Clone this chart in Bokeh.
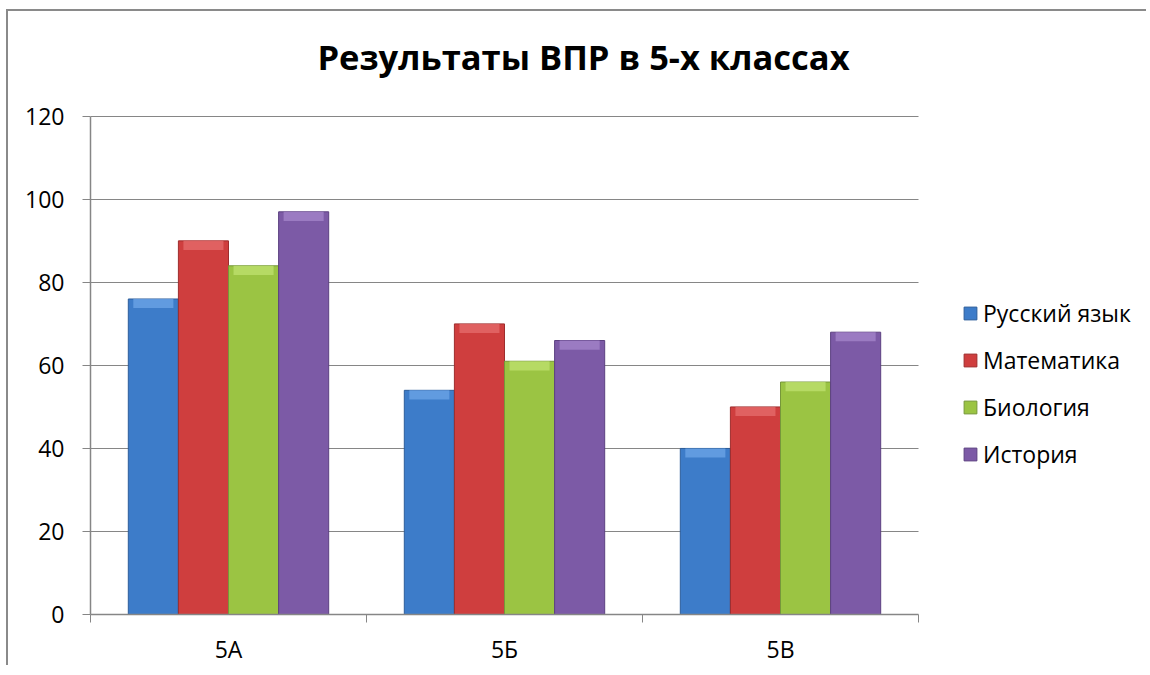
import numpy as np
from bokeh.plotting import figure
from bokeh.models import Range1d, FixedTicker, Label, Legend, LegendItem, ColumnDataSource, BoxAnnotation
from bokeh.embed import file_html
from bokeh.resources import INLINE

# ---- data ----
classes = ["5А", "5Б", "5В"]
subjects = ["Русский язык", "Математика", "Биология", "История"]
russian = [76, 54, 40]
math = [90, 70, 50]
biology = [84, 61, 56]
history = [97, 66, 68]
yticks = [0, 20, 40, 60, 80, 100, 120]
title_text = "Результаты ВПР в 5-х классах"

series = [russian, math, biology, history]
colors = ["#3d7cc9", "#cf3e3e", "#9bc443", "#7c5aa6"]
tops_c = ["#6aa2e6", "#e46a6a", "#bde06d", "#a283c9"]
edges = ["#2c5d9a", "#9e2d2d", "#76973a", "#5c4080"]

FONT = "Open Sans"

# layout (pixels)
W, H = 1140, 656
LEFT, BOTTOM = 82, 52
CAT_PX = 276.0           # width of one category
PLOT_PX = 499.0          # height of the 0..120 value span
YMAX = max(yticks)
frame_w = W - LEFT
frame_h = H - BOTTOM
ncat = len(classes)

p = figure(width=W, height=H, output_backend="svg", toolbar_location=None,
           x_range=Range1d(0, frame_w / CAT_PX),
           y_range=Range1d(0, frame_h / PLOT_PX * YMAX),
           min_border_left=LEFT, min_border_right=0, min_border_top=0,
           min_border_bottom=BOTTOM)
p.outline_line_color = None
p.background_fill_color = "white"
p.border_fill_color = "white"
p.styles = {"margin-left": "6px", "margin-top": "9px",
            "border-left": "2px solid #8a8a8a", "border-top": "2px solid #8a8a8a"}

# hide grid lines beyond the category area (legend region)
p.add_layout(BoxAnnotation(left=ncat, fill_color="white", fill_alpha=1,
                           line_color=None, level="underlay"))

centers = np.arange(ncat) + 0.5
bw = 0.1815
offsets = (np.arange(len(subjects)) - 1.5) * bw

items = []
for i, (vals, name) in enumerate(zip(series, subjects)):
    xs = centers + offsets[i]
    src = ColumnDataSource(dict(x=xs, top=vals))
    r = p.vbar(x="x", top="top", bottom=0, width=bw, source=src,
               fill_color=colors[i], line_color=edges[i], line_width=1)
    # bevel highlight on top
    src2 = ColumnDataSource(dict(x=xs, top=vals, bot=np.array(vals) - 2.2))
    p.vbar(x="x", top="top", bottom="bot", width=bw * 0.8, source=src2,
           fill_color=tops_c[i], line_color=None, fill_alpha=0.8)
    items.append(LegendItem(label=name, renderers=[r]))

# axes
p.xgrid.grid_line_color = None
p.ygrid.grid_line_color = "#868686"
p.ygrid.grid_line_width = 1
p.yaxis.ticker = FixedTicker(ticks=yticks)
p.yaxis.bounds = (0, YMAX)
p.xaxis.bounds = (0, ncat)
p.xaxis.ticker = FixedTicker(ticks=list(centers), minor_ticks=list(range(ncat + 1)))
p.xaxis.major_label_overrides = {float(c): n for c, n in zip(centers, classes)}
for ax in (p.xaxis[0], p.yaxis[0]):
    ax.axis_line_color = "#868686"
    ax.axis_line_width = 1.5
    ax.major_label_text_font = FONT
    ax.major_label_text_font_size = "23px"
    ax.major_label_text_color = "#000000"
p.yaxis.major_tick_line_color = "#868686"
p.yaxis.major_tick_in = 0
p.yaxis.major_tick_out = 8
p.yaxis.minor_tick_line_color = None
p.yaxis.major_label_standoff = 18
p.xaxis.major_tick_line_color = None
p.xaxis.minor_tick_line_color = "#868686"
p.xaxis.minor_tick_in = 0
p.xaxis.minor_tick_out = 8
p.xaxis.major_label_standoff = 10

# title (inside the extended frame, above the value span)
p.add_layout(Label(x=(583 - 90) / CAT_PX, y=YMAX + (116 - 56) / PLOT_PX * YMAX,
                   text=title_text, text_font=FONT, text_font_style="bold",
                   text_font_size="34.5px", text_align="center",
                   text_baseline="alphabetic", text_color="#000000"))

legend = Legend(items=items, location=(872, 144), orientation="vertical",
                label_text_font=FONT, label_text_font_size="23px",
                label_text_color="#000000", glyph_width=16, glyph_height=16,
                label_height=20, spacing=15, padding=0, margin=0,
                border_line_color=None, background_fill_alpha=0,
                label_standoff=5)
p.add_layout(legend, "center")

open("out.html", "w").write(file_html(p, INLINE))
